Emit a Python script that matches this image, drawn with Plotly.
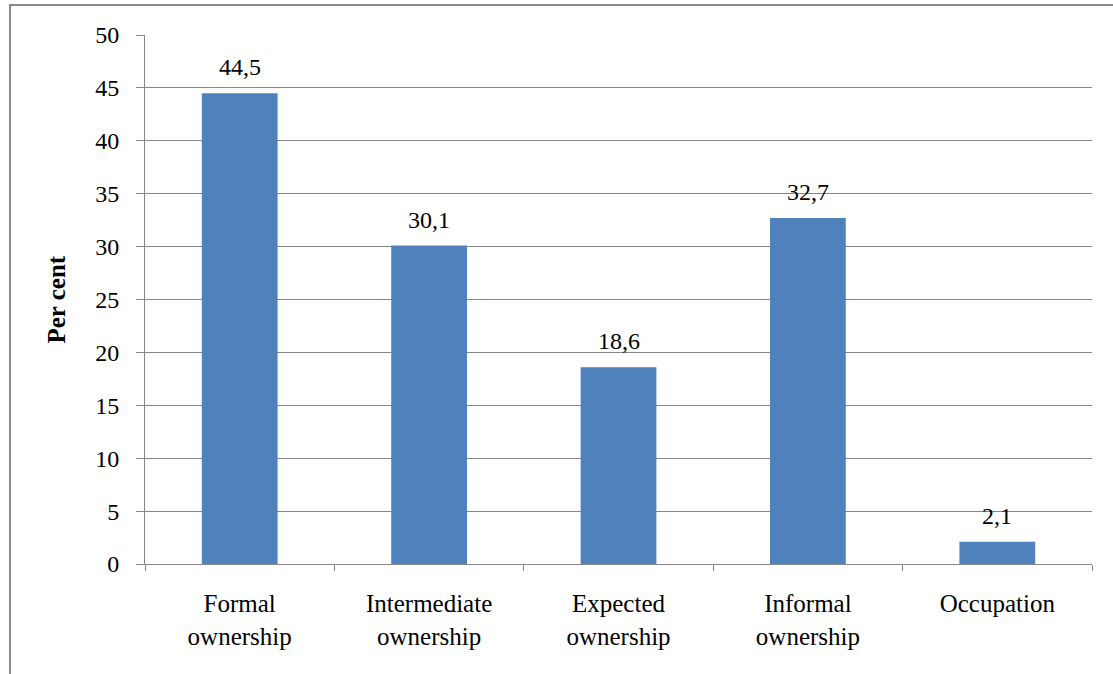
import plotly.graph_objects as go

categories = ["Formal<br>ownership", "Intermediate<br>ownership", "Expected<br>ownership",
              "Informal<br>ownership", "Occupation"]
values = [44.5, 30.1, 18.6, 32.7, 2.1]
y_ticks = [0, 5, 10, 15, 20, 25, 30, 35, 40, 45, 50]

FONT = "Liberation Serif"
GRID = "#868686"
BAR = "#4F81BD"

W, H = 1113, 674
L, R, T, B = 145, 21, 35, 110
plot_w = W - L - R
plot_h = H - T - B

fig = go.Figure(
    go.Bar(
        x=categories,
        y=values,
        marker=dict(color=BAR, line=dict(width=0)),
        hoverinfo="skip",
    )
)

# value labels above each bar, decimal comma
for c, v in zip(categories, values):
    fig.add_annotation(
        x=c, y=v, xref="x", yref="y",
        text=f"{v:.1f}".replace(".", ","),
        showarrow=False, yanchor="bottom", yshift=11,
        font=dict(family=FONT, size=24, color="black"),
    )

# rotated axis title
fig.add_annotation(
    x=(59 - L) / plot_w, y=0.5, xref="paper", yref="paper",
    xanchor="center", xshift=-3,
    text="<b>Per cent</b>", textangle=-90, showarrow=False,
    font=dict(family=FONT, size=25, color="black"),
)

# outer chart border
fig.add_shape(
    type="rect", xref="paper", yref="paper",
    x0=(10 - L) / plot_w, x1=(W + 20 - L) / plot_w,
    y0=(H - T - B - (H + 20 - T)) / plot_h, y1=(H - B - 5) / plot_h,
    line=dict(color="#8a8a8a", width=2), fillcolor="rgba(0,0,0,0)", layer="below",
)

fig.update_layout(
    width=W, height=H,
    margin=dict(l=L, r=R, t=T, b=B, pad=0),
    paper_bgcolor="white", plot_bgcolor="white",
    bargap=0.6, showlegend=False,
    font=dict(family=FONT, size=24, color="black"),
    xaxis=dict(
        showline=True, linecolor=GRID, linewidth=1,
        ticks="outside", tickson="boundaries", ticklen=6, tickcolor=GRID,
        tickfont=dict(family=FONT, size=25, color="black"),
        ticklabelstandoff=17,
        showgrid=False,
    ),
    yaxis=dict(
        range=[0, 50], tickvals=y_ticks,
        showline=True, linecolor=GRID, linewidth=1,
        ticks="outside", ticklen=8, tickcolor=GRID,
        showgrid=True, gridcolor=GRID, gridwidth=1,
        zeroline=False,
        tickfont=dict(family=FONT, size=24, color="black"),
        ticklabelstandoff=12,
    ),
)

fig.write_html("out.html")
